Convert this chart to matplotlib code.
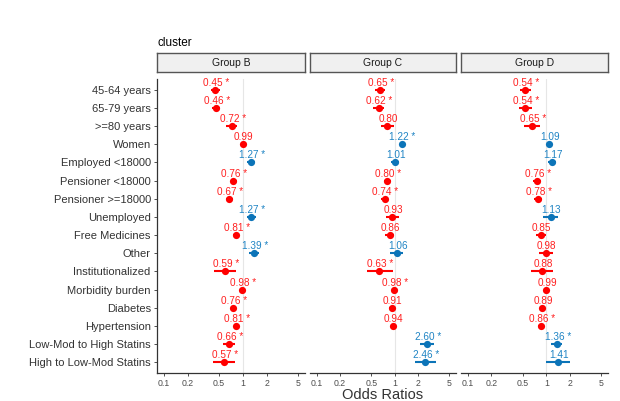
import numpy as np
import matplotlib
matplotlib.use("Agg")
import matplotlib.pyplot as plt

plt.rcParams['font.family'] = ['Liberation Sans', 'DejaVu Sans']

variables = ["45-64 years", "65-79 years", ">=80 years", "Women", "Employed <18000",
             "Pensioner <18000", "Pensioner >=18000", "Unemployed", "Free Medicines",
             "Other", "Institutionalized", "Morbidity burden", "Diabetes", "Hypertension",
             "Low-Mod to High Statins", "High to Low-Mod Statins"]
groups = ["Group B", "Group C", "Group D"]

or_b = [0.45, 0.46, 0.72, 0.99, 1.27, 0.76, 0.67, 1.27, 0.81, 1.39, 0.59, 0.98, 0.76, 0.81, 0.66, 0.57]
lo_b = [0.40, 0.41, 0.62, 0.95, 1.14, 0.70, 0.61, 1.12, 0.74, 1.20, 0.43, 0.96, 0.72, 0.78, 0.56, 0.42]
hi_b = [0.51, 0.52, 0.84, 1.03, 1.42, 0.83, 0.74, 1.45, 0.89, 1.60, 0.82, 1.00, 0.80, 0.84, 0.80, 0.80]
sig_b = [1, 1, 1, 0, 1, 1, 1, 1, 1, 1, 1, 1, 1, 1, 1, 1]

or_c = [0.65, 0.62, 0.80, 1.22, 1.01, 0.80, 0.74, 0.93, 0.86, 1.06, 0.63, 0.98, 0.91, 0.94, 2.60, 2.46]
lo_c = [0.56, 0.53, 0.66, 1.15, 0.90, 0.72, 0.66, 0.78, 0.75, 0.88, 0.44, 0.95, 0.84, 0.89, 2.10, 1.80]
hi_c = [0.76, 0.73, 0.98, 1.30, 1.12, 0.89, 0.82, 1.12, 0.98, 1.28, 0.95, 1.01, 0.98, 0.99, 3.20, 3.40]
sig_c = [1, 1, 0, 1, 0, 1, 1, 0, 0, 0, 1, 1, 0, 0, 1, 1]

or_d = [0.54, 0.54, 0.65, 1.09, 1.17, 0.76, 0.78, 1.13, 0.85, 0.98, 0.88, 0.99, 0.89, 0.86, 1.36, 1.41]
lo_d = [0.46, 0.45, 0.52, 1.02, 1.05, 0.67, 0.69, 0.90, 0.74, 0.80, 0.64, 0.96, 0.82, 0.79, 1.15, 1.00]
hi_d = [0.64, 0.65, 0.82, 1.16, 1.31, 0.86, 0.88, 1.42, 0.98, 1.20, 1.20, 1.02, 0.96, 0.93, 1.60, 2.00]
sig_d = [1, 1, 1, 0, 0, 1, 1, 0, 0, 0, 0, 0, 0, 1, 1, 0]

x_ticks = [0.1, 0.2, 0.5, 1, 2, 5]
x_ticklabels = ["0.1", "0.2", "0.5", "1", "2", "5"]

data = [(or_b, lo_b, hi_b, sig_b), (or_c, lo_c, hi_c, sig_c), (or_d, lo_d, hi_d, sig_d)]

RED = "#FF0000"
BLUE = "#0C74B8"
RED_T = "#FF2020"
BLUE_T = "#1F84C4"

W, H = 620, 401
fig = plt.figure(figsize=(W / 100, H / 100), dpi=100)

panels_px = [(157, 305), (310, 456), (461, 608)]
top_px, bot_px = 79, 373
strip_top, strip_bot = 53, 72

n = len(variables)
ypos = np.arange(n)

for gi, ((x0, x1), g, (orv, lo, hi, sig)) in enumerate(zip(panels_px, groups, data)):
    ax = fig.add_axes([x0 / W, 1 - bot_px / H, (x1 - x0) / W, (bot_px - top_px) / H])
    ax.set_xscale('log')
    ax.set_xlim(0.0822, 6.08)
    ax.set_ylim(n - 1 + 0.6, -0.6)
    ax.axvline(1, color="#E6E6E6", lw=0.8, zorder=0)
    for i in range(n):
        up = orv[i] > 1
        c = BLUE if up else RED
        ct = BLUE_T if up else RED_T
        ax.plot([lo[i], hi[i]], [ypos[i], ypos[i]], color=c, lw=1.5, solid_capstyle='butt', zorder=2)
        ax.plot(orv[i], ypos[i], 'o', color=c, ms=5.2, mew=0, zorder=3)
        lab = f"{orv[i]:.2f}" + (" *" if sig[i] else "")
        ax.annotate(lab, (orv[i], ypos[i]), xytext=(1, 4), textcoords='offset pixels',
                    color=ct, fontsize=7.2, ha='center', va='baseline')
    ax.set_xticks(x_ticks)
    ax.set_xticklabels(x_ticklabels)
    ax.xaxis.set_minor_locator(matplotlib.ticker.NullLocator())
    ax.tick_params(axis='x', labelsize=6.3, length=2.5, width=0.6, pad=2,
                   color="#333333", labelcolor="#4D4D4D")
    for s in ['top', 'right']:
        ax.spines[s].set_visible(False)
    ax.spines['bottom'].set_color("#333333")
    ax.spines['bottom'].set_linewidth(0.9)
    if gi == 0:
        ax.set_yticks(ypos)
        ax.set_yticklabels(variables)
        ax.tick_params(axis='y', labelsize=8, length=2.5, width=0.6, pad=2,
                       color="#333333", labelcolor="#333333")
        ax.spines['left'].set_color("#333333")
        ax.spines['left'].set_linewidth(0.9)
    else:
        ax.set_yticks([])
        ax.spines['left'].set_visible(False)
    # strip
    sax = fig.add_axes([x0 / W, 1 - strip_bot / H, (x1 - x0) / W, (strip_bot - strip_top) / H])
    sax.set_facecolor("#F0F0F0")
    sax.set_xticks([]); sax.set_yticks([])
    for s in sax.spines.values():
        s.set_color("#555555"); s.set_linewidth(1.0)
    sax.text(0.5, 0.5, g, ha='center', va='center', fontsize=7.5, color="#1A1A1A", transform=sax.transAxes)

fig.text(158 / W, 1 - 43 / H, "cluster", fontsize=8.5, va='center', ha='left', color="#000000")
fig.text((157 + 608) / 2 / W, 1 - 395 / H, "Odds Ratios", fontsize=10.5, ha='center', va='center', color="#333333")

fig.savefig("out.png", dpi=100, facecolor="white")
